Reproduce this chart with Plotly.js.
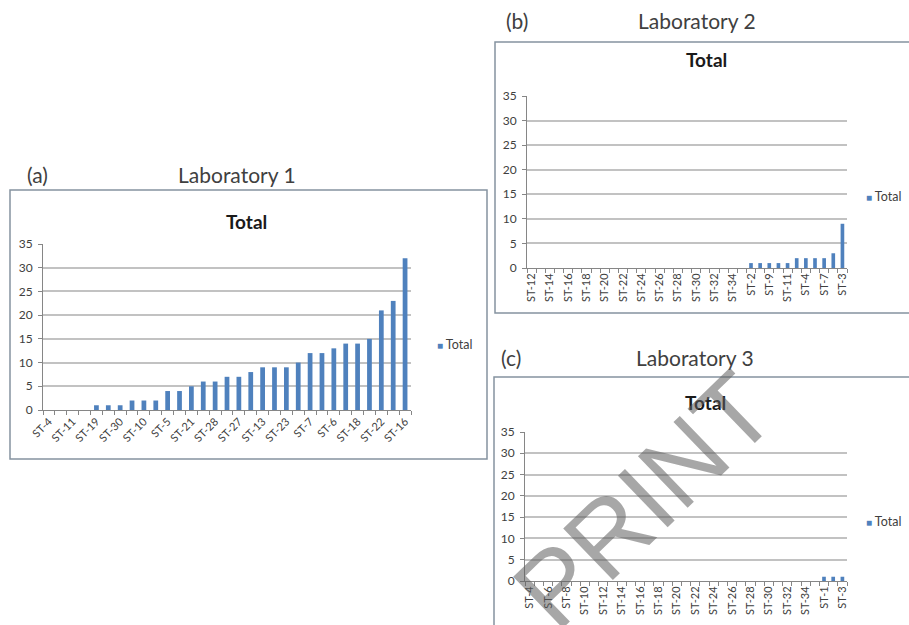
<!DOCTYPE html>
<html>
<head>
<meta charset="utf-8">
<script src="https://cdn.plot.ly/plotly-3.0.1.min.js"></script>
<style>html,body{margin:0;padding:0;background:#fff;}#chart{width:909px;height:625px;}</style>
</head>
<body>
<div id="chart"></div>
<script>
// ---------- DATA ----------
const lab1Names = ['ST-4','ST-8','ST-11','ST-12','ST-19','ST-20','ST-30','ST-1','ST-10','ST-24',
  'ST-5','ST-9','ST-21','ST-26','ST-28','ST-25','ST-27','ST-3','ST-13','ST-17',
  'ST-23','ST-29','ST-7','ST-14','ST-6','ST-15','ST-18','ST-2','ST-22','ST-31','ST-16'];
const lab1Values = [0,0,0,0,1,1,1,2,2,2,
  4,4,5,6,6,7,7,8,9,9,
  9,10,12,12,13,14,14,15,21,23,32];

const lab2Names = ['ST-12','ST-13','ST-14','ST-15','ST-16','ST-17','ST-18','ST-19','ST-20','ST-21',
  'ST-22','ST-23','ST-24','ST-25','ST-26','ST-27','ST-28','ST-29','ST-30','ST-31',
  'ST-32','ST-33','ST-34','ST-35','ST-2','ST-5','ST-9','ST-6','ST-11','ST-8',
  'ST-4','ST-10','ST-7','ST-1','ST-3'];
const lab2Values = [0,0,0,0,0,0,0,0,0,0,
  0,0,0,0,0,0,0,0,0,0,
  0,0,0,0,1,1,1,1,1,2,
  2,2,2,3,9];

const lab3Names = ['ST-4','ST-5','ST-6','ST-7','ST-8','ST-9','ST-10','ST-11','ST-12','ST-13',
  'ST-14','ST-15','ST-16','ST-17','ST-18','ST-19','ST-20','ST-21','ST-22','ST-23',
  'ST-24','ST-25','ST-26','ST-27','ST-28','ST-29','ST-30','ST-31','ST-32','ST-33',
  'ST-34','ST-35','ST-1','ST-2','ST-3'];
const lab3Values = [0,0,0,0,0,0,0,0,0,0,
  0,0,0,0,0,0,0,0,0,0,
  0,0,0,0,0,0,0,0,0,0,
  0,0,1,1,1];

const panelLetters = ['(a)','(b)','(c)'];
const panelTitles = ['Laboratory 1','Laboratory 2','Laboratory 3'];
const chartTitle = 'Total';
const seriesName = 'Total';
const yTicks = [0,5,10,15,20,25,30,35];

// ---------- LAYOUT HELPERS ----------
const W = 909, H = 625;
const px = v => v / W;
const py = v => 1 - v / H;
const BLUE = '#4F81BD';
const FONT = 'Lato, "Open Sans", sans-serif';
const TXT = '#404040';

function everyOther(names){ return names.map((n,i) => i % 2 === 0 ? n : ''); }

const traces = [
  {type:'bar', x: lab1Names, y: lab1Values, name: seriesName, marker:{color: BLUE}, width: 0.4,
   xaxis:'x', yaxis:'y', hoverinfo:'x+y'},
  {type:'bar', x: lab2Names, y: lab2Values, name: seriesName, marker:{color: BLUE}, width: 0.4,
   xaxis:'x2', yaxis:'y2', hoverinfo:'x+y'},
  {type:'bar', x: lab3Names, y: lab3Values, name: seriesName, marker:{color: BLUE}, width: 0.4,
   xaxis:'x3', yaxis:'y3', hoverinfo:'x+y'}
];

function xAxis(names, dom, angle, anchor){
  return {
    domain: dom, anchor: anchor, type:'category',
    tickmode:'array', tickvals: names, ticktext: everyOther(names),
    tickangle: angle, tickson:'boundaries', ticks:'outside', ticklen:4, tickcolor:'#868686',
    showline:true, linecolor:'#868686', linewidth:1, showgrid:false, zeroline:false,
    tickfont:{family: FONT, size: 11, color: TXT}, automargin:false, fixedrange:true
  };
}
function yAxis(dom, anchor){
  return {
    domain: dom, anchor: anchor, range:[0,35], tickmode:'array', tickvals: yTicks,
    ticks:'outside', ticklen:4, tickcolor:'#868686', ticklabelstandoff: 3,
    showline:true, linecolor:'#868686', linewidth:1,
    showgrid:true, gridcolor:'#c2c2c2', gridwidth:2, zeroline:false,
    tickfont:{family: FONT, size: 12, color: TXT}, automargin:false, fixedrange:true
  };
}

const boxStyle = {color:'#8593a0', width:1.5};
const shapes = [
  {type:'rect', xref:'paper', yref:'paper', x0:px(10), x1:px(487), y0:py(190), y1:py(459), line:boxStyle, layer:'below'},
  {type:'rect', xref:'paper', yref:'paper', x0:px(495), x1:px(915), y0:py(42), y1:py(313), line:boxStyle, layer:'below'},
  {type:'rect', xref:'paper', yref:'paper', x0:px(494), x1:px(915), y0:py(377), y1:py(632), line:boxStyle, layer:'below'}
];

function ann(text, x, y, size, opts){
  return Object.assign({text: text, x: px(x), y: py(y), xref:'paper', yref:'paper',
    showarrow:false, xanchor:'center', yanchor:'middle',
    font:{family: FONT, size: size, color: TXT}}, opts || {});
}
const legendText = '<span style="color:' + BLUE + ';font-size:10px">■</span> ' + seriesName;
const titleFont = {family: FONT, size: 19, color:'#1a1a1a'};

const annotations = [
  ann(panelLetters[0], 37, 174, 21),
  ann(panelTitles[0], 237, 174, 21),
  ann(panelLetters[1], 517, 21, 21),
  ann(panelTitles[1], 697, 21, 21),
  ann(panelLetters[2], 511, 357, 21),
  ann(panelTitles[2], 695, 357, 21),
  ann('<b>' + chartTitle + '</b>', 246, 222, 19, {font: titleFont}),
  ann('<b>' + chartTitle + '</b>', 706, 59, 19, {font: titleFont}),
  ann('<b>' + chartTitle + '</b>', 705, 402, 19, {font: titleFont}),
  ann(legendText, 435, 344, 12.5, {xanchor:'left'}),
  ann(legendText, 864, 197, 12.5, {xanchor:'left'}),
  ann(legendText, 864, 521, 12.5, {xanchor:'left'}),
  ann('PRINT', 644, 500, 104, {textangle:-44, font:{family:'Liberation Sans, Arial, sans-serif', size:104, color:'rgba(95,95,95,0.55)'}})
];

const layout = {
  width: W, height: H,
  margin:{l:0, r:0, t:0, b:0, pad:0},
  paper_bgcolor:'#ffffff', plot_bgcolor:'rgba(0,0,0,0)',
  showlegend: false,
  xaxis:  xAxis(lab1Names, [px(43), px(411)], -45, 'y'),
  yaxis:  yAxis([py(410), py(244)], 'x'),
  xaxis2: xAxis(lab2Names, [px(527), px(847)], -90, 'y2'),
  yaxis2: yAxis([py(268), py(96)], 'x2'),
  xaxis3: xAxis(lab3Names, [px(525), px(847)], -90, 'y3'),
  yaxis3: yAxis([py(581), py(432)], 'x3'),
  shapes: shapes,
  annotations: annotations
};

Plotly.newPlot('chart', traces, layout, {displayModeBar:false, staticPlot:true});
</script>
</body>
</html>
